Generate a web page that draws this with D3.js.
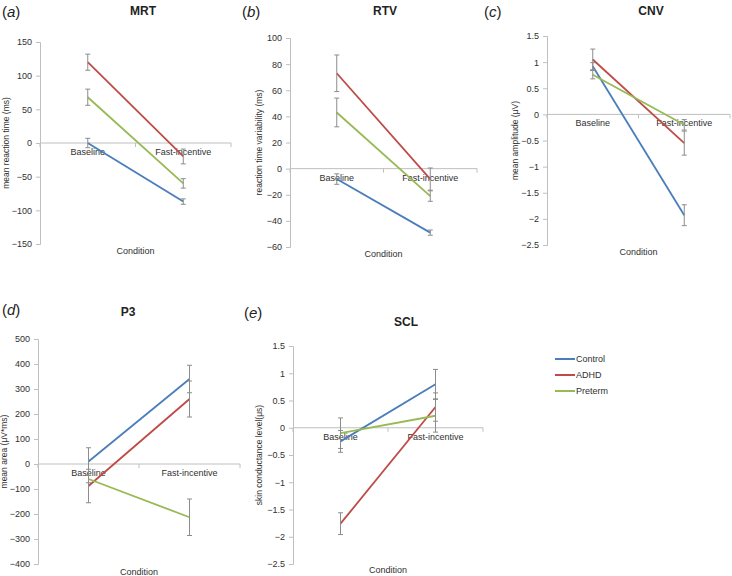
<!DOCTYPE html>
<html><head><meta charset="utf-8">
<script src="https://cdn.jsdelivr.net/npm/d3@7"></script>
<style>body{margin:0;background:#fff}svg{display:block}text{font-family:"Liberation Sans",Arial,sans-serif}</style>
</head><body><svg id="c" width="732" height="576"></svg>
<script>
const groups = ["Control","ADHD","Preterm"];
const conditions = ["Baseline","Fast-incentive"];
const colors = ["#4a7ebb","#be4b48","#98b954"];

const mrtMeans = [[0,-87],[120,-20],[68,-60]];
const mrtErr   = [[7,4],[12,11],[12,7]];
const mrtTicks = [150,100,50,0,-50,-100,-150];

const rtvMeans = [[-8,-49],[73,-8],[43,-21]];
const rtvErr   = [[4,2],[14,8.5],[11,4]];
const rtvTicks = [100,80,60,40,20,0,-20,-40,-60];

const cnvMeans = [[0.92,-1.93],[1.05,-0.55],[0.76,-0.2]];
const cnvErr   = [[0.07,0.2],[0.2,0.23],[0.08,0.1]];
const cnvTicks = [1.5,1,0.5,0,-0.5,-1,-1.5,-2,-2.5];

const p3Means = [[10,340],[-88,260],[-60,-213]];
const p3Err   = [[55,55],[67,72],[15,73]];
const p3Ticks = [500,400,300,200,100,0,-100,-200,-300,-400];

const sclMeans = [[-0.25,0.8],[-1.76,0.38],[-0.1,0.22]];
const sclErr   = [[0.2,0.27],[0.2,0.26],[0.28,0.3]];
const sclTicks = [1.5,1,0.5,0,-0.5,-1,-1.5,-2,-2.5];

const panels = [
  {tag:"a",title:"MRT",ylab:"mean reaction time (ms)",means:mrtMeans,err:mrtErr,ticks:mrtTicks,
   x0:40,x1:231,yTop:42,yBot:244,tagX:2,tagY:17,titleX:143,titleY:15,ylabX:9,condY:254},
  {tag:"b",title:"RTV",ylab:"reaction time variability (ms)",means:rtvMeans,err:rtvErr,ticks:rtvTicks,
   x0:290,x1:477,yTop:38,yBot:247,tagX:242,tagY:17,titleX:385,titleY:15,ylabX:262,condY:257},
  {tag:"c",title:"CNV",ylab:"mean amplitude (\u03bcV)",means:cnvMeans,err:cnvErr,ticks:cnvTicks,
   x0:547,x1:730,yTop:36,yBot:245,tagX:484,tagY:17,titleX:651,titleY:15,ylabX:518,condY:255},
  {tag:"d",title:"P3",ylab:"mean area (\u03bcV*ms)",means:p3Means,err:p3Err,ticks:p3Ticks,
   x0:38,x1:240,yTop:339,yBot:564,tagX:2,tagY:315,titleX:128,titleY:316,ylabX:7,condY:575},
  {tag:"e",title:"SCL",ylab:"skin conductance level(\u03bcs)",means:sclMeans,err:sclErr,ticks:sclTicks,
   x0:293,x1:483,yTop:346,yBot:564,tagX:244,tagY:318,titleX:406,titleY:326,ylabX:262,condY:573}
];

const svg = d3.select("#c");
const axisCol = "#bfbfbf";
const txtCol = "#303030";

panels.forEach(p => {
  const g = svg.append("g");
  const y = d3.scaleLinear().domain([d3.min(p.ticks), d3.max(p.ticks)]).range([p.yBot, p.yTop]);
  const x = d3.scaleBand().domain(conditions).range([p.x0, p.x1]);
  const cx = c => x(c) + x.bandwidth()/2;

  const ya = g.append("g").attr("transform",`translate(${p.x0},0)`)
    .call(d3.axisLeft(y).tickValues(p.ticks).tickSize(4).tickPadding(4).tickFormat(d3.format("")));
  ya.select(".domain").attr("stroke",axisCol);
  ya.selectAll(".tick line").attr("stroke",axisCol);
  ya.selectAll(".tick text").attr("font-size",9).attr("fill",txtCol)
    .style("font-family","'Liberation Sans',Arial,sans-serif");

  const y0 = y(0);
  g.append("line").attr("x1",p.x0).attr("x2",p.x1).attr("y1",y0).attr("y2",y0).attr("stroke",axisCol);
  [p.x0, p.x0 + x.bandwidth(), p.x1].forEach(t =>
    g.append("line").attr("x1",t).attr("x2",t).attr("y1",y0).attr("y2",y0+4).attr("stroke",axisCol));
  conditions.forEach(c => g.append("text").attr("x",cx(c)).attr("y",y0+12)
    .attr("text-anchor","middle").attr("font-size",9).attr("fill",txtCol).text(c));

  const line = d3.line().x((d,i)=>cx(conditions[i])).y(d=>y(d));
  p.means.forEach((m,k) => {
    g.append("path").datum(m).attr("d",line).attr("fill","none")
      .attr("stroke",colors[k]).attr("stroke-width",1.8);
  });
  p.means.forEach((m,k) => {
    m.forEach((v,i) => {
      const X = cx(conditions[i]), e = p.err[k][i];
      const t = y(v+e), b = y(v-e);
      g.append("line").attr("x1",X).attr("x2",X).attr("y1",t).attr("y2",b).attr("stroke","#8c8c8c").attr("stroke-width",1);
      [t,b].forEach(yy => g.append("line").attr("x1",X-2.5).attr("x2",X+2.5).attr("y1",yy).attr("y2",yy).attr("stroke","#8c8c8c").attr("stroke-width",1));
    });
  });

  g.append("text").attr("x",p.titleX).attr("y",p.titleY).attr("text-anchor","middle")
    .attr("font-size",12).attr("font-weight","bold").attr("fill","#222").text(p.title);
  const tg = g.append("text").attr("x",p.tagX).attr("y",p.tagY).attr("font-size",15).attr("fill","#222");
  tg.append("tspan").text("(");
  tg.append("tspan").attr("font-style","italic").text(p.tag);
  tg.append("tspan").text(")");
  g.append("text").attr("transform",`translate(${p.ylabX},${(p.yTop+p.yBot)/2}) rotate(-90)`)
    .attr("text-anchor","middle").attr("font-size",8.5).attr("fill",txtCol).text(p.ylab);
  g.append("text").attr("x",(p.x0+p.x1)/2).attr("y",p.condY).attr("text-anchor","middle")
    .attr("font-size",9).attr("fill",txtCol).text("Condition");
});

const lg = svg.append("g");
groups.forEach((gname,k) => {
  const yy = 359 + k*16;
  lg.append("line").attr("x1",555).attr("x2",575).attr("y1",yy).attr("y2",yy).attr("stroke",colors[k]).attr("stroke-width",2);
  lg.append("text").attr("x",576).attr("y",yy+3).attr("font-size",9).attr("fill",txtCol).text(gname);
});
</script></body></html>
